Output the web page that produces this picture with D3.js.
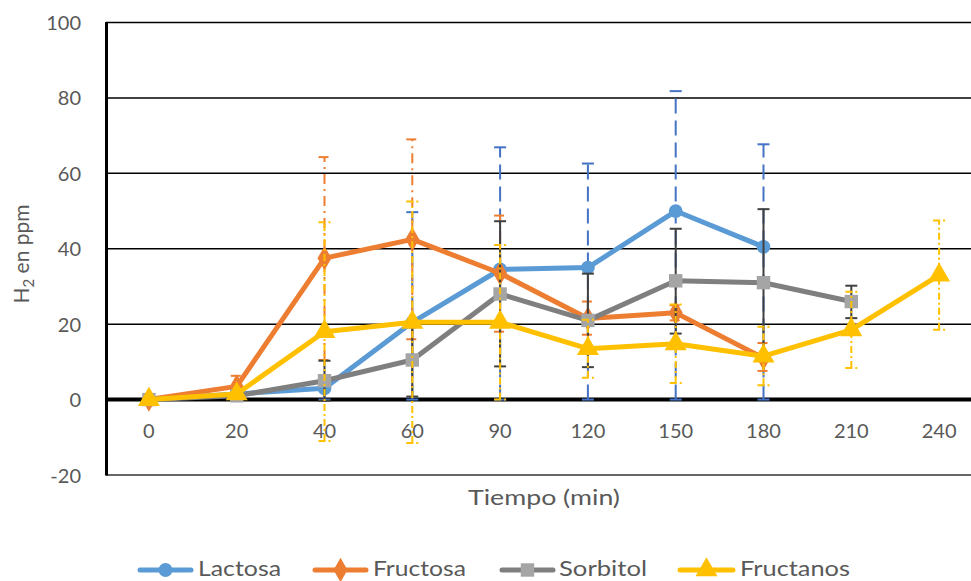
<!DOCTYPE html>
<html><head><meta charset="utf-8">
<script src="https://cdn.jsdelivr.net/npm/d3@7"></script>
<style>body{margin:0;background:#fff}svg{display:block}text{font-family:Lato,"Open Sans",sans-serif}</style>
</head><body><svg id="c" width="971" height="581"></svg>
<script>
const categories = ["0","20","40","60","90","120","150","180","210","240"];
const yTicks = [-20,0,20,40,60,80,100];
const seriesNames = ["Lactosa","Fructosa","Sorbitol","Fructanos"];
const lactosa   = [0, 1.5, 3, 20.5, 34.5, 35, 50, 40.5, null, null];
const lactosaLo = [null, null, 0, 0, 0, 0, 0, 0, null, null];
const lactosaHi = [null, null, 6, 49.7, 66.9, 62.6, 81.8, 67.7, null, null];
const fructosa   = [0, 3.5, 37.5, 42.5, 33.5, 21.5, 23, 11, null, null];
const fructosaLo = [null, 0.7, 10.5, 16, 18, 17.2, 21, 7.6, null, null];
const fructosaHi = [null, 6.3, 64.3, 69, 48.8, 26, 25, 15, null, null];
const sorbitol   = [0, 1, 5, 10.5, 28, 21, 31.5, 31, 26, null];
const sorbitolLo = [null, null, -0.3, 0.8, 8.8, 8.6, 17.5, 11.5, 21.6, null];
const sorbitolHi = [null, null, 10.3, 20.2, 47.3, 33.4, 45.3, 50.5, 30.2, null];
const fructanos   = [0, 1.5, 18, 20.5, 20.5, 13.5, 14.8, 11.5, 18.5, 33];
const fructanosLo = [null, null, -11, -11.5, 0, 5.8, 4.4, 3.8, 8.4, 18.5];
const fructanosHi = [null, null, 47, 52.5, 41, 21.2, 25.2, 19.3, 28.6, 47.5];

const svg = d3.select("#c");
const x = d3.scaleBand().domain(categories).range([105, 983]);
const cx = c => x(c) + x.bandwidth()/2;
const y = d3.scaleLinear().domain([-20,100]).range([475, 22.5]);

// gridlines
svg.append("g").selectAll("line").data(yTicks.filter(t=>t!==0 && t!==-20)).join("line")
  .attr("x1",106).attr("x2",971).attr("y1",d=>y(d)).attr("y2",d=>y(d))
  .attr("stroke","#000").attr("stroke-width",1.5);
// bottom border
svg.append("line").attr("x1",106).attr("x2",971).attr("y1",y(-20)).attr("y2",y(-20))
  .attr("stroke","#333").attr("stroke-width",1.5);
// y axis
const yAxis = d3.axisLeft(y).tickValues(yTicks).tickSize(0).tickPadding(0).tickFormat(d=>String(d));
const gy = svg.append("g").attr("transform","translate(81,0)").call(yAxis);
gy.select(".domain").remove();
gy.selectAll("text").attr("font-size",20).attr("fill","#595959").attr("dy","0.35em");
svg.append("line").attr("x1",106.5).attr("x2",106.5).attr("y1",y(100)-0.5).attr("y2",y(-20)+0.5)
  .attr("stroke","#000").attr("stroke-width",3);

const series = [
  {name:"Lactosa", v:lactosa, lo:lactosaLo, hi:lactosaHi, line:"#5B9BD5", mk:"#5B9BD5", eb:"#4472C4", dash:"15,7", shape:d3.symbolCircle, size:150},
  {name:"Fructosa", v:fructosa, lo:fructosaLo, hi:fructosaHi, line:"#ED7D31", mk:"#ED7D31", eb:"#ED7D31", dash:"10,5,2,5", shape:d3.symbolDiamond, size:170},
  {name:"Sorbitol", v:sorbitol, lo:sorbitolLo, hi:sorbitolHi, line:"#7F7F7F", mk:"#A5A5A5", eb:"#404040", dash:null, shape:d3.symbolSquare, size:180},
  {name:"Fructanos", v:fructanos, lo:fructanosLo, hi:fructanosHi, line:"#FFC000", mk:"#FFC000", eb:"#FFC000", dash:"7,3,2,3", shape:d3.symbolTriangle, size:210}
];

// zero line
svg.append("line").attr("x1",106).attr("x2",971).attr("y1",y(0)).attr("y2",y(0))
  .attr("stroke","#000").attr("stroke-width",4);

// x labels
const xAxis = d3.axisBottom(x).tickSize(0).tickPadding(0);
const gx = svg.append("g").attr("transform",`translate(0,${y(0)+31})`).call(xAxis);
gx.select(".domain").remove();
gx.selectAll("text").attr("font-size",20).attr("fill","#595959").attr("dy","0.35em").attr("y",0);

series.forEach(s=>{
  const g = svg.append("g");
  const idx = categories.map((c,i)=>i).filter(i=>s.lo[i]!==null);
  idx.forEach(i=>{
    const xx = cx(categories[i]);
    const st = (sel)=>sel.attr("stroke",s.eb).attr("stroke-width",2).attr("stroke-dasharray",s.dash);
    g.append("line").attr("x1",xx).attr("x2",xx).attr("y1",y(s.lo[i])).attr("y2",y(s.hi[i])).call(st);
    [s.lo[i], s.hi[i]].forEach(v=>{
      g.append("line").attr("x1",xx-6).attr("x2",xx+6).attr("y1",y(v)).attr("y2",y(v)).call(st);
    });
  });
  const pts = categories.map((c,i)=>[c,s.v[i]]).filter(d=>d[1]!==null);
  g.append("path").datum(pts)
    .attr("d", d3.line().x(d=>cx(d[0])).y(d=>y(d[1])))
    .attr("fill","none").attr("stroke",s.line).attr("stroke-width",5).attr("stroke-linejoin","round");
  g.selectAll("path.m").data(pts).join("path").attr("class","m")
    .attr("transform",d=>`translate(${cx(d[0])},${y(d[1])})`)
    .attr("d", d3.symbol().type(s.shape).size(s.size))
    .attr("fill",s.mk);
});

// axis titles
svg.append("text").attr("x",544).attr("y",505).attr("text-anchor","middle")
  .attr("font-size",22).attr("textLength",152).attr("lengthAdjust","spacingAndGlyphs")
  .attr("fill","#595959").text("Tiempo (min)");
const yt = svg.append("text").attr("transform","translate(29,254) rotate(-90)")
  .attr("text-anchor","middle").attr("font-size",21).attr("fill","#595959");
yt.append("tspan").text("H");
yt.append("tspan").attr("font-size",15).attr("dy",5).text("2");
yt.append("tspan").attr("dy",-5).text(" en ppm");

// legend
const legLine = [[138,193],[313,368],[500,555],[678,735]];
const legText = [[198,83],[373,93],[559,88],[740,110]];
const lg = svg.append("g");
series.forEach((s,i)=>{
  const [a,b] = legLine[i];
  lg.append("line").attr("x1",a+2).attr("x2",b-2).attr("y1",570).attr("y2",570)
    .attr("stroke",s.line).attr("stroke-width",5).attr("stroke-linecap","round");
  lg.append("path").attr("transform",`translate(${(a+b)/2},570)`)
    .attr("d", d3.symbol().type(s.shape).size(s.size)).attr("fill",s.mk);
  lg.append("text").attr("x",legText[i][0]).attr("y",576)
    .attr("font-size",22).attr("textLength",legText[i][1]).attr("lengthAdjust","spacingAndGlyphs")
    .attr("fill","#595959").text(s.name);
});
</script></body></html>
